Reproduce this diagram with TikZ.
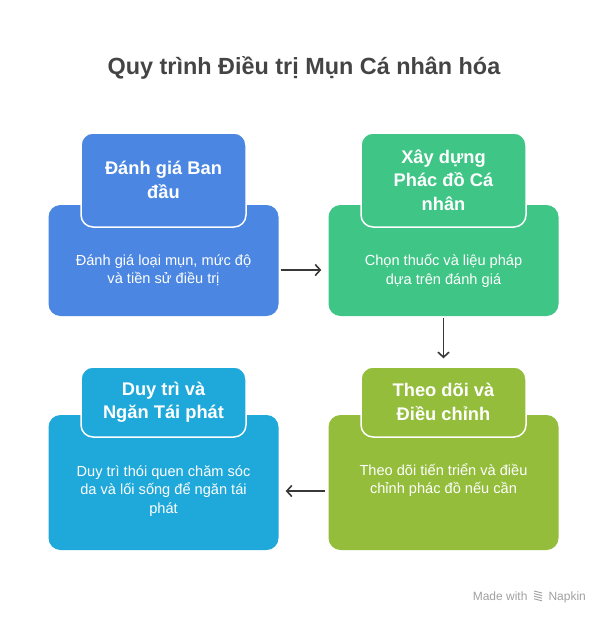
\documentclass[tikz,border=0pt]{standalone}
\usepackage{fontspec}
\setmainfont{Liberation Sans}
\usetikzlibrary{arrows.meta}

\definecolor{stepblue}{HTML}{4A86E2}
\definecolor{stepgreen}{HTML}{3FC586}
\definecolor{stepcyan}{HTML}{1FA8DA}
\definecolor{stepolive}{HTML}{93BD3B}
\definecolor{titlegray}{HTML}{444444}
\definecolor{markgray}{HTML}{A0A0A0}

\tikzset{
  body/.style={rounded corners=12pt, minimum width=230pt, inner sep=0pt},
  tab/.style={rounded corners=12pt, draw=white, line width=1.5pt, minimum width=165pt,
    inner sep=0pt, text=white, align=center, font=\fontsize{18.3}{23.5}\selectfont\bfseries},
  bodytext/.style={text=white, align=center, anchor=north, font=\fontsize{14.6}{18.5}\selectfont},
  flow/.style={draw=black!78, line width=1.6pt, -{Straight Barb[length=5pt,width=11pt]}}
}

\begin{document}
\begin{tikzpicture}[x=1pt,y=-1pt]
\def\xl{163.5};
\def\xr{443.5};

\def\ya{260.5};
\def\yb{482.5};
\def\ta{180};
\def\tb{402};

\useasboundingbox (0,0) rectangle (608,624);

\node[font=\fontsize{23.4}{27}\selectfont\bfseries, text=titlegray] (title) at (304,68) {Quy trình Điều trị Mụn Cá nhân hóa};

% top row
\node[body, fill=stepblue, minimum height=111pt] (b1) at (\xl,\ya) {};
\node[tab, fill=stepblue, minimum height=94pt] (t1) at (\xl,\ta) {Đánh giá Ban\\đầu};
\node[bodytext] (d1) at (\xl,251) {Đánh giá loại mụn, mức độ\\và tiền sử điều trị};

\node[body, fill=stepgreen, minimum height=111pt] (b2) at (\xr,\ya) {};
\node[tab, fill=stepgreen, minimum height=94pt] (t2) at (\xr,\ta) {Xây dựng\\Phác đồ Cá\\nhân};
\node[bodytext] (d2) at (\xr,251) {Chọn thuốc và liệu pháp\\dựa trên đánh giá};

% bottom row
\node[body, fill=stepcyan, minimum height=135pt] (b3) at (\xl,\yb) {};
\node[tab, fill=stepcyan, minimum height=70pt] (t3) at (\xl,\tb) {Duy trì và\\Ngăn Tái phát};
\node[bodytext] (d3) at (\xl,462) {Duy trì thói quen chăm sóc\\da và lối sống để ngăn tái\\phát};

\node[body, fill=stepolive, minimum height=135pt] (b4) at (\xr,\yb) {};
\node[tab, fill=stepolive, minimum height=70pt] (t4) at (\xr,\tb) {Theo dõi và\\Điều chỉnh};
\node[bodytext] (d4) at (\xr,460) {Theo dõi tiến triển và điều\\chỉnh phác đồ nếu cần};

\draw[flow, shorten <=2pt, shorten >=7pt] ([yshift=-9.5pt]b1.east) -- ([yshift=-9.5pt]b2.west);
\draw[flow, shorten <=2pt, shorten >=8pt] (b2.south) -- (t4.north);
\draw[flow, shorten <=3pt, shorten >=7pt] ([yshift=-8.5pt]b4.west) -- ([yshift=-8.5pt]b3.east);

% watermark
\node[font=\fontsize{12}{14}\selectfont, text=markgray, anchor=base east] (made) at (531,600) {Made with};
\node[font=\fontsize{12}{14}\selectfont, text=markgray, anchor=base west] (napkin) at (545,600) {Napkin};
\foreach \i in {0,1,2,3} {
  \draw[markgray, line width=0.9pt] (534,591+2.6*\i) -- (542,593+2.6*\i);
}

\end{tikzpicture}
\end{document}
